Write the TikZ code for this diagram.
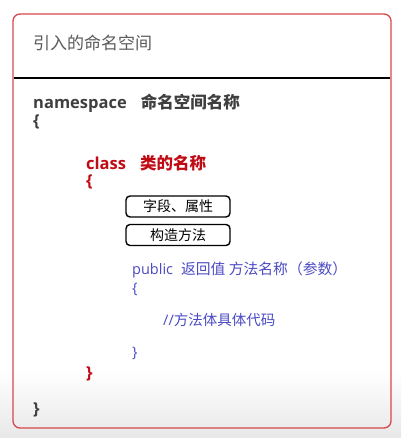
\documentclass[tikz,border=0pt]{standalone}
\usepackage{fontspec}
\setmainfont{Open Sans}
\newfontfamily\cjk{Noto Sans CJK SC}
\definecolor{boxred}{HTML}{D9474A}
\definecolor{titlegray}{HTML}{5A5A5A}
\definecolor{nsdark}{HTML}{3F3F3F}
\definecolor{clsred}{HTML}{C00A14}
\definecolor{mblue}{HTML}{4B4BC4}
\begin{document}
\begin{tikzpicture}[x=1pt,y=-1pt,
  txt/.style={anchor=west,inner sep=0pt},
  membox/.style={draw=black,line width=1.4pt,rounded corners=4pt,minimum width=104pt,minimum height=21pt,inner sep=0pt,
    font=\fontsize{14}{16}\selectfont\cjk},
  nsfont/.style={font=\fontsize{16.5}{20}\selectfont\bfseries,text=nsdark},
  clsfont/.style={font=\fontsize{16.5}{20}\selectfont\bfseries,text=clsred},
  mfont/.style={font=\fontsize{14.5}{18}\selectfont,text=mblue}]
\useasboundingbox (0,0) rectangle (401,438);
\fill[white] (0,0) rectangle (401,438);
\shade[top color=white,bottom color=black!9] (0,370) rectangle (401,438);
\draw[draw=boxred,line width=1.3pt,rounded corners=7pt] (13,14) rectangle (391,428);
\draw[line width=1.8pt] (13.6,78) -- (390.4,78);
\node[txt,font=\fontsize{17}{20}\selectfont\cjk,text=titlegray] (title) at (33,43) {引入的命名空间};
\node[txt,nsfont] (ns) at (33,103) {namespace\hspace{0.85em}{\cjk\bfseries 命名空间名称}};
\node[txt,nsfont] (nsopen) at (33,122) {\{};
\node[txt,clsfont] (cls) at (86,163) {class\hspace{0.85em}{\cjk\bfseries 类的名称}};
\node[txt,clsfont] (clsopen) at (86,182) {\{};
\node[membox] (field) at (178,206.5) {字段、属性};
\node[membox] (ctor) at (178,235) {构造方法};
\node[txt,mfont] (meth) at (132,270) {public\hspace{0.55em}{\cjk\fontsize{14.8}{18}\selectfont 返回值 方法名称（参数）}};
\node[txt,mfont] (mopen) at (132,289) {\{};
\node[txt,mfont] (body) at (163,320) {//{\cjk 方法体具体代码}};
\node[txt,mfont] (mclose) at (132,353) {\}};
\node[txt,clsfont] (clsclose) at (86,374) {\}};
\node[txt,nsfont] (nsclose) at (33,410) {\}};
\end{tikzpicture}
\end{document}
